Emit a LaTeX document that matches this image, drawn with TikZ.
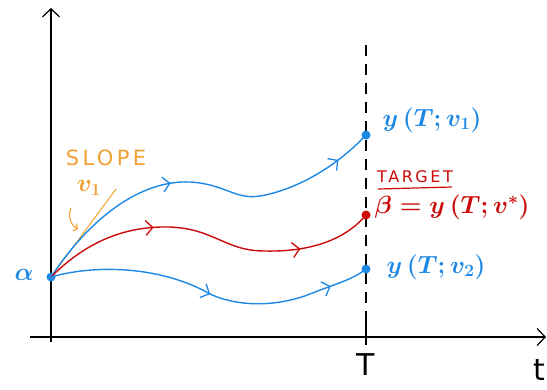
\documentclass[tikz,border=0pt]{standalone}
\usepackage{fontspec}
\setsansfont{DejaVu Sans}
\newfontfamily\spacedsans[LetterSpace=16]{DejaVu Sans}
\usetikzlibrary{arrows.meta,decorations.markings}
\definecolor{cblue}{RGB}{30,136,229}
\definecolor{cred}{RGB}{204,10,10}
\definecolor{corange}{RGB}{240,160,48}
\tikzset{
  axis/.style={line width=1.2pt,black},
  traj/.style={line width=1.4pt},
  midarrows/.style 2 args={postaction={decorate},decoration={markings,
    mark=at position #1 with {\arrow{Straight Barb[length=7pt,width=15pt,line width=1.3pt]}},
    mark=at position #2 with {\arrow{Straight Barb[length=7pt,width=15pt,line width=1.3pt]}}}},
  dot/.style={circle,fill,inner sep=0pt,minimum size=9pt},
  biglab/.style={font=\fontsize{27}{30}\selectfont\boldmath},
}
\begin{document}
\begin{tikzpicture}[x=1pt,y=-1pt]
\useasboundingbox (0,0) rectangle (547,389);
% axes
\coordinate (ybot) at (51,342);
\coordinate (ytop) at (51,8);
\coordinate (xl) at (30,337);
\coordinate (xr) at (546,337);
\draw[axis,-{Straight Barb[length=8pt,width=17pt,line width=1.2pt]}] (ybot) -- (ytop);
\draw[axis,-{Straight Barb[length=8pt,width=17pt,line width=1.2pt]}] (xl) -- (xr);
% T tick and dashed line
\coordinate (Ttop) at (366,45);
\coordinate (Tb) at (366,318);
\coordinate (Tbb) at (366,345);
\draw[line width=1.1pt,dash pattern=on 11pt off 8pt] (Ttop) -- (Tb);
\draw[axis] (Tb) -- (Tbb);
\node[font=\fontsize{30}{32}\selectfont\sffamily] (Tlab) at (366,365) {T};
\node[font=\fontsize{30}{32}\selectfont\sffamily] (tlab) at (539,370) {t};
% points
\node[dot,cblue] (A) at (51,277) {};
\node[dot,cblue] (Y1) at (366,135) {};
\node[dot,cred] (B) at (366,215) {};
\node[dot,cblue] (Y2) at (366,269) {};
\node[cblue,biglab] (alab) at (24,275) {$\alpha$};
% slope
\coordinate (S) at (116,189);
\draw[corange,line width=1pt] (A.center) -- (S);
\node[corange,font=\fontsize{21}{24}\selectfont\spacedsans] (slope) at (106,158) {SLOPE};
\node[corange,biglab] (v1) at (89,188) {$v_1$};
\coordinate (ca) at (71,208);
\coordinate (cb) at (78,229);
\draw[corange,line width=1.1pt,-{Straight Barb[length=3pt,width=8pt]}] (ca) .. controls (67,218) and (72,226) .. (cb);
% trajectories
\draw[cblue,traj,midarrows={0.42}{0.9}] (A.center) .. controls (90,218) and (140,180) .. (190,182)
  .. controls (225,184) and (235,200) .. (260,196) .. controls (295,190) and (335,168) .. (Y1.center);
\draw[cred,traj,midarrows={0.34}{0.78}] (A.center) .. controls (90,238) and (130,226) .. (170,227)
  .. controls (215,229) and (225,251) .. (265,251) .. controls (310,252) and (345,240) .. (B.center);
\draw[cblue,traj,midarrows={0.5}{0.88}] (A.center) .. controls (100,263) and (165,268) .. (210,294)
  .. controls (240,308) and (280,306) .. (310,294) .. controls (335,284) and (352,280) .. (Y2.center);
% labels
\node[cblue,biglab] (l1) at (432,120) {$y\,(T;v_1)$};
\node[cred,font=\fontsize{16}{18}\selectfont\spacedsans] (tg) at (415,177) {TARGET};
\coordinate (u1) at (378,189);
\coordinate (u2) at (452,187);
\draw[cred,line width=1.2pt] (u1) -- (u2);
\node[cred,biglab] (lb) at (452,207) {$\beta=y\,(T;v^{*})$};
\node[cblue,biglab] (l2) at (436,267) {$y\,(T;v_2)$};
\end{tikzpicture}
\end{document}
